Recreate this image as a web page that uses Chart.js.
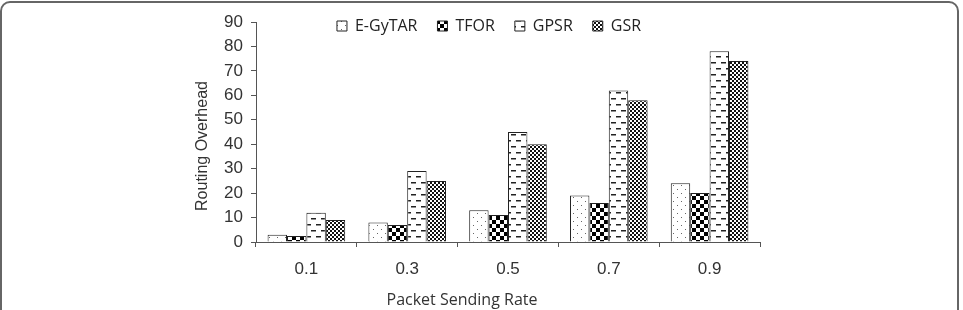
<!DOCTYPE html>
<html>
<head>
<meta charset="utf-8">
<script src="https://cdn.jsdelivr.net/npm/chart.js@4"></script>
<style>
  html, body { margin: 0; padding: 0; background: #fff; }
  #wrap { position: relative; width: 963px; height: 310px; overflow: hidden; }
  #frame { position: absolute; left: 0; top: 1px; width: 955px; height: 400px; border: 2px solid #666; border-radius: 10px; }
  canvas { position: absolute; left: 0; top: 0; }
</style>
</head>
<body>
<div id="wrap">
  <div id="frame"></div>
  <canvas id="chart" width="963" height="310"></canvas>
</div>
<script>
// data
const rates = ["0.1", "0.3", "0.5", "0.7", "0.9"];
const egytar = [3, 8, 13, 19, 24];
const tfor = [2.5, 7, 11, 16, 20];
const gpsr = [12, 29, 45, 62, 78];
const gsr = [9, 25, 40, 58, 74];
const yMin = 0, yMax = 90, yStep = 10;

const xTitle = "Packet Sending Rate";
const yTitle = "Routing Overhead";

// fill patterns (like the excel hatch fills)
function makePattern(w, h, draw) {
  const c = document.createElement("canvas");
  c.width = w;
  c.height = h;
  const g = c.getContext("2d");
  g.fillStyle = "#fff";
  g.fillRect(0, 0, w, h);
  draw(g);
  return c.getContext("2d").createPattern(c, "repeat");
}

const dots = makePattern(8, 8, function (g) {
  g.fillStyle = "#666";
  g.fillRect(1, 1, 1, 1);
  g.fillRect(5, 5, 1, 1);
});
const bigChecker = makePattern(8, 8, function (g) {
  g.fillStyle = "#000";
  g.fillRect(0, 0, 4, 4);
  g.fillRect(4, 4, 4, 4);
});
const dashes = makePattern(10, 12, function (g) {
  g.fillStyle = "#222";
  g.fillRect(1, 2, 5, 1.5);
  g.fillRect(6, 8, 5, 1.5);
  g.fillRect(-4, 8, 5, 1.5);
});
const fineChecker = makePattern(4, 4, function (g) {
  g.fillStyle = "#111";
  g.fillRect(0, 0, 2, 2);
  g.fillRect(2, 2, 2, 2);
});

// the legend floats over the top of the plot (it takes no layout space),
// and the axis titles are placed by hand
const tweaks = {
  id: "tweaks",
  beforeLayout(chart) {
    const lg = chart.legend;
    if (lg && !lg._noSpace) {
      const fit = lg.fit;
      lg.fit = function () {
        fit.call(this);
        this._realHeight = this.height;
        this.height = 0;
      };
      lg._noSpace = true;
    }
  },
  afterLayout(chart) {
    const lg = chart.legend;
    lg.left += 14; lg.right += 14;
    lg.top = -2;
    lg.bottom = lg.top + lg._realHeight;
  },
  afterDraw(chart) {
    const ctx = chart.ctx;
    ctx.save();
    ctx.fillStyle = "#333";
    ctx.textAlign = "center";
    ctx.textBaseline = "middle";
    ctx.font = "16px 'Open Sans'";
    ctx.fillText(xTitle, 462, 300);
    ctx.translate(203, 146);
    ctx.rotate(-Math.PI / 2);
    ctx.font = "16px 'Liberation Sans'";
    ctx.fillText(yTitle, 0, 0);
    ctx.restore();
  }
};

const tickFont = { family: "'Liberation Sans', Arial, sans-serif", size: 17 };

new Chart(document.getElementById("chart"), {
  type: "bar",
  data: {
    labels: rates,
    datasets: [
      { label: "E-GyTAR", data: egytar, backgroundColor: dots },
      { label: "TFOR", data: tfor, backgroundColor: bigChecker },
      { label: "GPSR", data: gpsr, backgroundColor: dashes },
      { label: "GSR", data: gsr, backgroundColor: fineChecker }
    ]
  },
  options: {
    responsive: false,
    animation: false,
    layout: { padding: { left: 190, right: 203, top: 22, bottom: 28 } },
    datasets: {
      bar: { borderColor: "#222", borderWidth: 1, categoryPercentage: 0.77, barPercentage: 1 }
    },
    plugins: {
      legend: {
        position: "top",
        labels: {
          boxWidth: 10,
          boxHeight: 10,
          padding: 20,
          color: "#222",
          font: { family: "'Open Sans', sans-serif", size: 16 }
        }
      },
      tooltip: { enabled: false }
    },
    scales: {
      x: {
        ticks: { color: "#333", font: tickFont, padding: 12 },
        grid: { offset: true, drawOnChartArea: false, tickLength: 5, color: "#555" },
        border: { color: "#555", width: 1 },
        afterFit(s) { s.height = 40; }
      },
      y: {
        min: yMin,
        max: yMax,
        ticks: { stepSize: yStep, color: "#333", font: tickFont, padding: 8 },
        grid: { drawOnChartArea: false, tickLength: 5, color: "#555" },
        border: { color: "#555", width: 1 },
        afterFit(s) { s.width = 66; }
      }
    }
  },
  plugins: [tweaks]
});
</script>
</body>
</html>
